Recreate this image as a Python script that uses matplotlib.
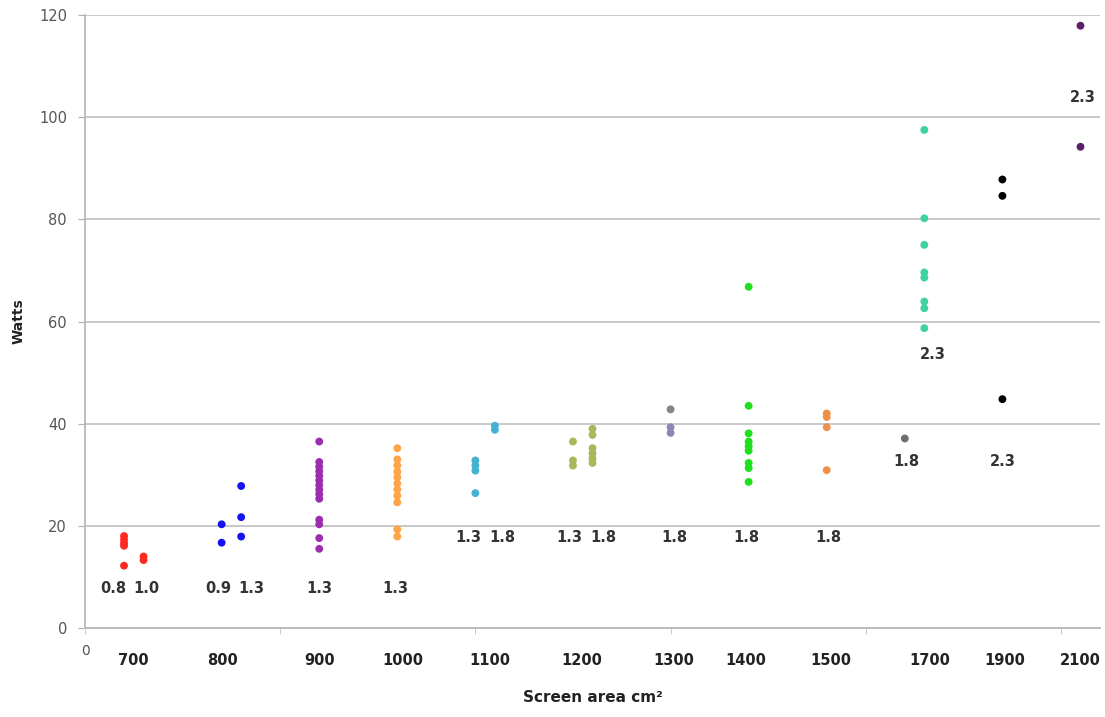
"""Power draw vs screen area, grouped dot plot."""
import numpy as np
import matplotlib
matplotlib.use("Agg")
import matplotlib.pyplot as plt

# x positions of each dot group on the chart's own axis (0..26)
group_x = [1.0, 1.5, 3.5, 4.0, 6.0, 8.0, 10.0, 10.5, 12.5, 13.0,
           15.0, 15.0, 17.0, 19.0, 21.0, 21.5, 23.5, 25.5]
group_watts = [
    [18.0, 17.3, 16.6, 16.1, 12.2],
    [14.0, 13.3],
    [20.3, 16.7],
    [27.8, 21.7, 17.9],
    [36.5, 32.5, 31.6, 30.7, 29.8, 28.9, 28.0, 27.1, 26.2, 25.3, 21.2, 20.3, 17.6, 15.5],
    [35.2, 33.0, 31.8, 30.6, 29.5, 28.3, 27.1, 25.9, 24.6, 19.3, 17.9],
    [32.8, 31.8, 30.8, 26.4],
    [39.6, 38.8],
    [36.5, 32.8, 31.8],
    [39.0, 37.8, 35.2, 34.2, 33.2, 32.3],
    [42.8],
    [39.3, 38.2],
    [66.8, 43.5, 38.1, 36.5, 35.6, 34.7, 32.3, 31.3, 28.6],
    [42.0, 41.3, 39.3, 30.9],
    [37.1],
    [97.5, 80.2, 75.0, 69.6, 68.6, 63.9, 62.6, 58.7],
    [87.8, 84.6, 44.8],
    [117.9, 94.2],
]
group_colors = ["#ff2a1f", "#ff2a1f", "#1414f0", "#1414f0", "#9b2eae", "#ffa447",
                "#46b2d2", "#46b2d2", "#a8b85a", "#a8b85a", "#858585", "#8a88b4",
                "#1ee01e", "#f08f4a", "#6e6e6e", "#3ed2a0", "#000000", "#5e1f6a"]

# diagonal-size labels (text, x, y)
size_labels = ["0.8", "1.0", "0.9", "1.3", "1.3", "1.3", "1.3", "1.8", "1.3", "1.8",
               "1.8", "1.8", "1.8", "2.3", "1.8", "2.3", "2.3"]
size_label_x = [0.72, 1.56, 3.41, 4.26, 6.0, 7.95, 9.82, 10.69, 12.41, 13.28,
                15.1, 16.95, 19.03, 21.72, 21.05, 23.5, 25.56]
size_label_y = [7.8, 7.8, 7.8, 7.8, 7.8, 7.8, 17.8, 17.8, 17.8, 17.8,
                17.8, 17.8, 17.8, 53.6, 32.5, 32.5, 103.8]

# screen area category labels along the bottom
area_labels = ["700", "800", "900", "1000", "1100", "1200", "1300", "1400",
               "1500", "1700", "1900", "2100"]
area_label_x = [1.23, 3.51, 6.0, 8.15, 10.38, 12.72, 15.08, 16.92, 19.1,
                21.64, 23.56, 25.49]

fig = plt.figure(figsize=(11.05, 7.17), dpi=100)
ax = fig.add_axes([85 / 1105, 89 / 717, 1015 / 1105, 613 / 717])

for gx, ws, c in zip(group_x, group_watts, group_colors):
    ax.scatter([gx] * len(ws), ws, s=32, color=c, edgecolors="none", zorder=3)

for t, x, y in zip(size_labels, size_label_x, size_label_y):
    ax.text(x, y, t, ha="center", va="center", fontsize=10.5,
            fontweight="bold", color="#333333")

ax.set_xlim(0, 26)
ax.set_ylim(0, 120)
ax.set_yticks(np.arange(0, 121, 20))
ax.yaxis.grid(True, color="#c4c4c4", linewidth=1.3)
ax.set_axisbelow(True)
ax.tick_params(axis="y", colors="#b0b0b0", labelcolor="#555555",
               labelsize=10.5, length=5, pad=8)

ax.set_xticks(area_label_x, area_labels)
ax.tick_params(axis="x", length=0, labelsize=10.5, pad=18, labelcolor="#222222")
for lb in ax.get_xticklabels():
    lb.set_fontweight("bold")
ax.set_xticks(np.arange(0, 26, 5), minor=True)
ax.tick_params(axis="x", which="minor", length=4, color="#c0c0c0")
ax.text(0, -4.5, "0", ha="center", va="center", fontsize=10, color="#555555")

for s in ["top", "right"]:
    ax.spines[s].set_visible(False)
for s in ["left", "bottom"]:
    ax.spines[s].set_color("#b8b8b8")
    ax.spines[s].set_linewidth(1.3)

ax.set_xlabel("Screen area cm²", fontsize=11, fontweight="bold",
              color="#222222", labelpad=16)
ax.set_ylabel("Watts", fontsize=10, fontweight="bold", color="#222222")
ax.yaxis.set_label_coords(-59 / 1015, 0.5)

fig.savefig("out.png", dpi=100)
